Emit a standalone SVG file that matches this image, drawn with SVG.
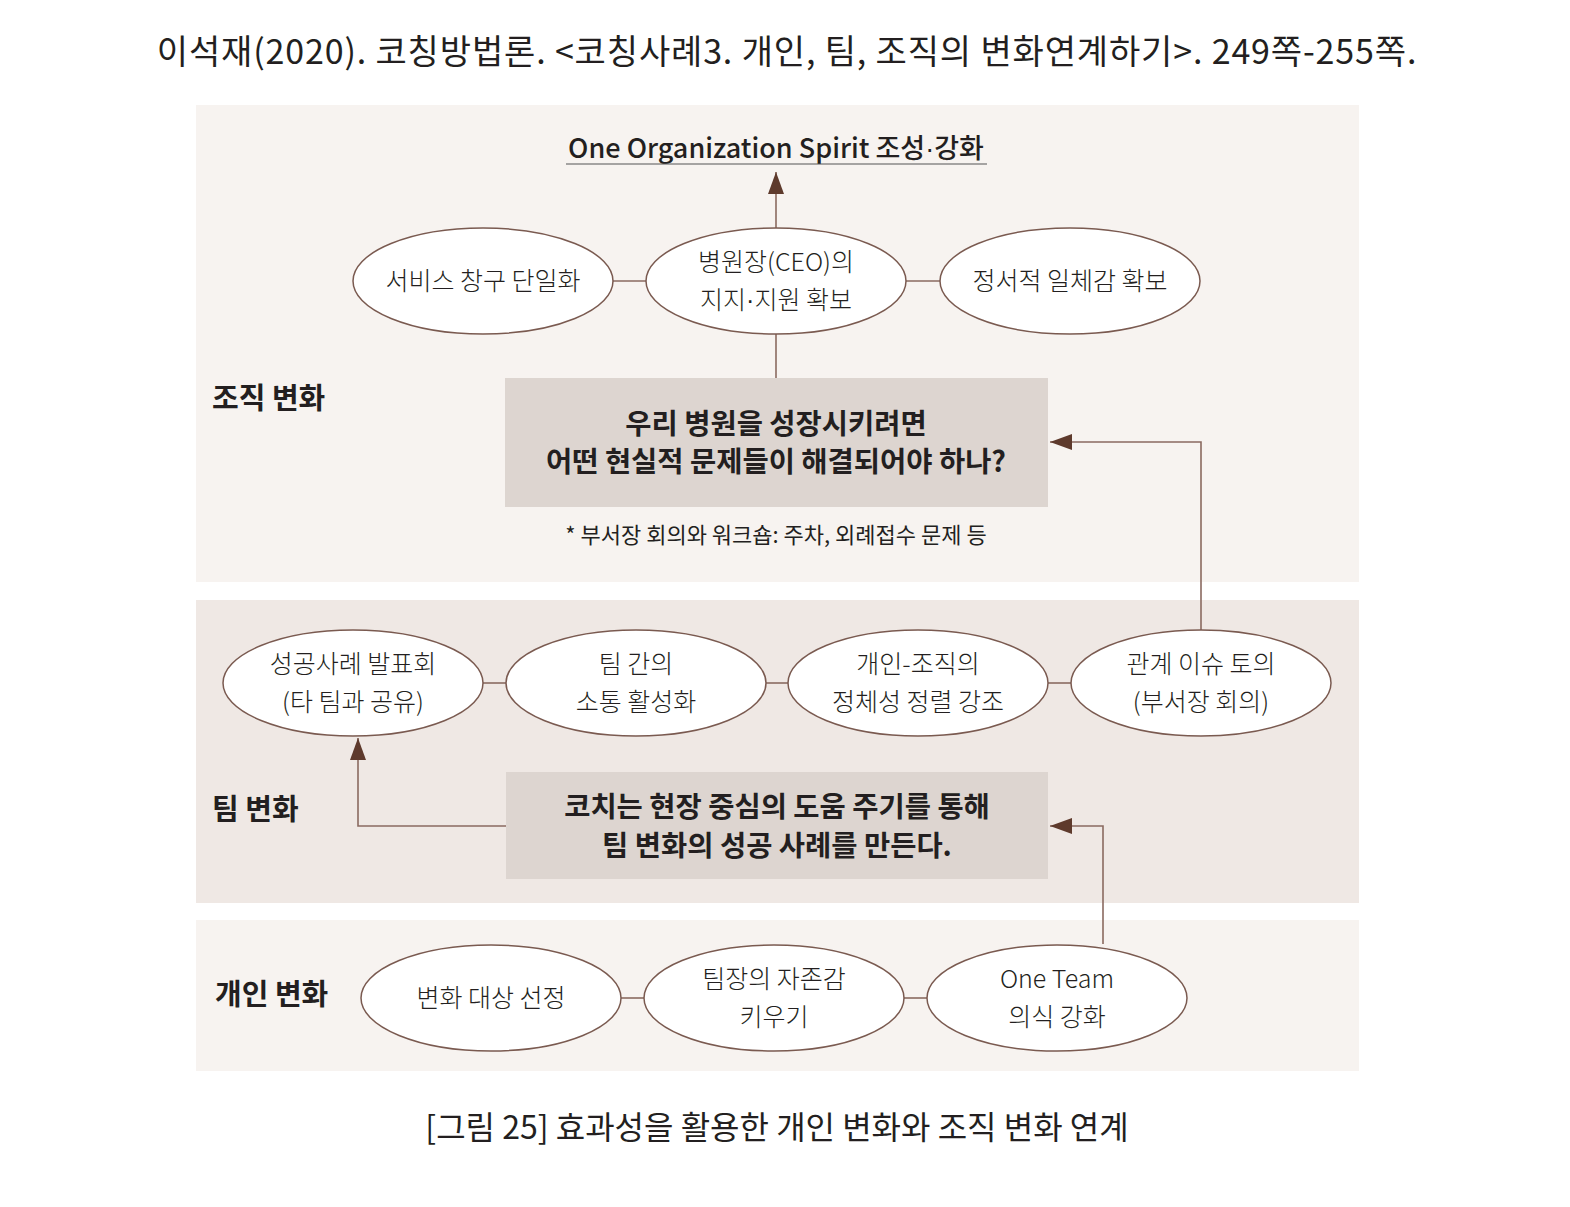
<svg xmlns="http://www.w3.org/2000/svg" width="1570" height="1207" viewBox="0 0 1570 1207">
<defs>
<style>
text{font-family:"Noto Sans CJK KR","Noto Sans",sans-serif;fill:#231f20;text-anchor:middle}
.t{font-size:34px;font-weight:400;letter-spacing:0.85px}
.cap{font-size:32px;font-weight:400}
.lab{font-size:29px;font-weight:700;text-anchor:start}
.el{fill:#fff;stroke:#7a5a50;stroke-width:1.5}
.et{font-size:25px;font-weight:300}
.bx{fill:#ddd5d0}
.bt{font-size:28.5px;font-weight:700}
.note{font-size:22px;font-weight:400}
.ln{fill:none;stroke:#8a6a60;stroke-width:1.6}
.head{font-size:27px;font-weight:500}
.dot{font-family:"Liberation Sans",sans-serif}
</style>
<marker id="ah2" viewBox="0 0 22 16" refX="22" refY="8" markerWidth="22" markerHeight="16" markerUnits="userSpaceOnUse" orient="auto">
<path d="M0,0 L22,8 L0,16 z" fill="#5e3a2c"/>
</marker>
</defs>
<rect width="1570" height="1207" fill="#fff"/>
<text class="t" x="787" y="64">이석재(2020). 코칭방법론. &lt;코칭사례3. 개인, 팀, 조직의 변화연계하기&gt;. 249쪽-255쪽.</text>
<rect x="196" y="105" width="1163" height="477" fill="#f7f3f0"/>
<rect x="196" y="600" width="1163" height="303" fill="#efe8e4"/>
<rect x="196" y="920" width="1163" height="151" fill="#f7f3f0"/>
<text class="lab" x="212" y="409">조직 변화</text>
<text class="lab" x="212" y="820">팀 변화</text>
<text class="lab" x="215" y="1005">개인 변화</text>
<g id="connectors">
<line class="ln" x1="613" y1="281" x2="646" y2="281"/>
<line class="ln" x1="906" y1="281" x2="940" y2="281"/>
<line class="ln" x1="776" y1="334" x2="776" y2="378"/>
<line class="ln" x1="776" y1="228" x2="776" y2="172" marker-end="url(#ah2)"/>
<polyline class="ln" points="1201,630 1201,442 1050,442" marker-end="url(#ah2)"/>
<line class="ln" x1="483" y1="683" x2="506" y2="683"/>
<line class="ln" x1="766" y1="683" x2="788" y2="683"/>
<line class="ln" x1="1048" y1="683" x2="1071" y2="683"/>
<polyline class="ln" points="506,826 358,826 358,738" marker-end="url(#ah2)"/>
<polyline class="ln" points="1103,944 1103,826 1050,826" marker-end="url(#ah2)"/>
<line class="ln" x1="621" y1="998" x2="644" y2="998"/>
<line class="ln" x1="904" y1="998" x2="927" y2="998"/>
</g>
<g id="goal">
<text class="head" x="776" y="158">One Organization Spirit 조성<tspan class="dot">·</tspan>강화</text>
<line x1="566" y1="164" x2="987" y2="164" stroke="#555" stroke-width="1.2"/>
</g>
<g id="n-service"><ellipse class="el" cx="483" cy="281" rx="130" ry="53"/><text class="et" x="483" y="290">서비스 창구 단일화</text></g>
<g id="n-ceo"><ellipse class="el" cx="776" cy="281" rx="130" ry="53"/><text class="et" x="776" y="271">병원장(CEO)의</text><text class="et" x="776" y="309">지지<tspan class="dot">·</tspan>지원 확보</text></g>
<g id="n-emotion"><ellipse class="el" cx="1070" cy="281" rx="130" ry="53"/><text class="et" x="1070" y="290">정서적 일체감 확보</text></g>
<g id="box-org"><rect class="bx" x="505" y="378" width="543" height="129"/><text class="bt" x="776" y="434">우리 병원을 성장시키려면</text><text class="bt" x="776" y="472">어떤 현실적 문제들이 해결되어야 하나?</text></g>
<text class="note" x="776" y="543">* 부서장 회의와 워크숍: 주차, 외례접수 문제 등</text>
<g id="n-success"><ellipse class="el" cx="353" cy="683" rx="130" ry="53"/><text class="et" x="353" y="673">성공사례 발표회</text><text class="et" x="353" y="711">(타 팀과 공유)</text></g>
<g id="n-comm"><ellipse class="el" cx="636" cy="683" rx="130" ry="53"/><text class="et" x="636" y="673">팀 간의</text><text class="et" x="636" y="711">소통 활성화</text></g>
<g id="n-identity"><ellipse class="el" cx="918" cy="683" rx="130" ry="53"/><text class="et" x="918" y="673">개인-조직의</text><text class="et" x="918" y="711">정체성 정렬 강조</text></g>
<g id="n-relation"><ellipse class="el" cx="1201" cy="683" rx="130" ry="53"/><text class="et" x="1201" y="673">관계 이슈 토의</text><text class="et" x="1201" y="711">(부서장 회의)</text></g>
<g id="box-team"><rect class="bx" x="506" y="772" width="542" height="107"/><text class="bt" x="777" y="817">코치는 현장 중심의 도움 주기를 통해</text><text class="bt" x="777" y="856">팀 변화의 성공 사례를 만든다.</text></g>
<g id="n-target"><ellipse class="el" cx="491" cy="998" rx="130" ry="53"/><text class="et" x="491" y="1007">변화 대상 선정</text></g>
<g id="n-esteem"><ellipse class="el" cx="774" cy="998" rx="130" ry="53"/><text class="et" x="774" y="988">팀장의 자존감</text><text class="et" x="774" y="1026">키우기</text></g>
<g id="n-oneteam"><ellipse class="el" cx="1057" cy="998" rx="130" ry="53"/><text class="et" x="1057" y="988">One Team</text><text class="et" x="1057" y="1026">의식 강화</text></g>
<text class="cap" x="777" y="1139">[그림 25] 효과성을 활용한 개인 변화와 조직 변화 연계</text>
</svg>
